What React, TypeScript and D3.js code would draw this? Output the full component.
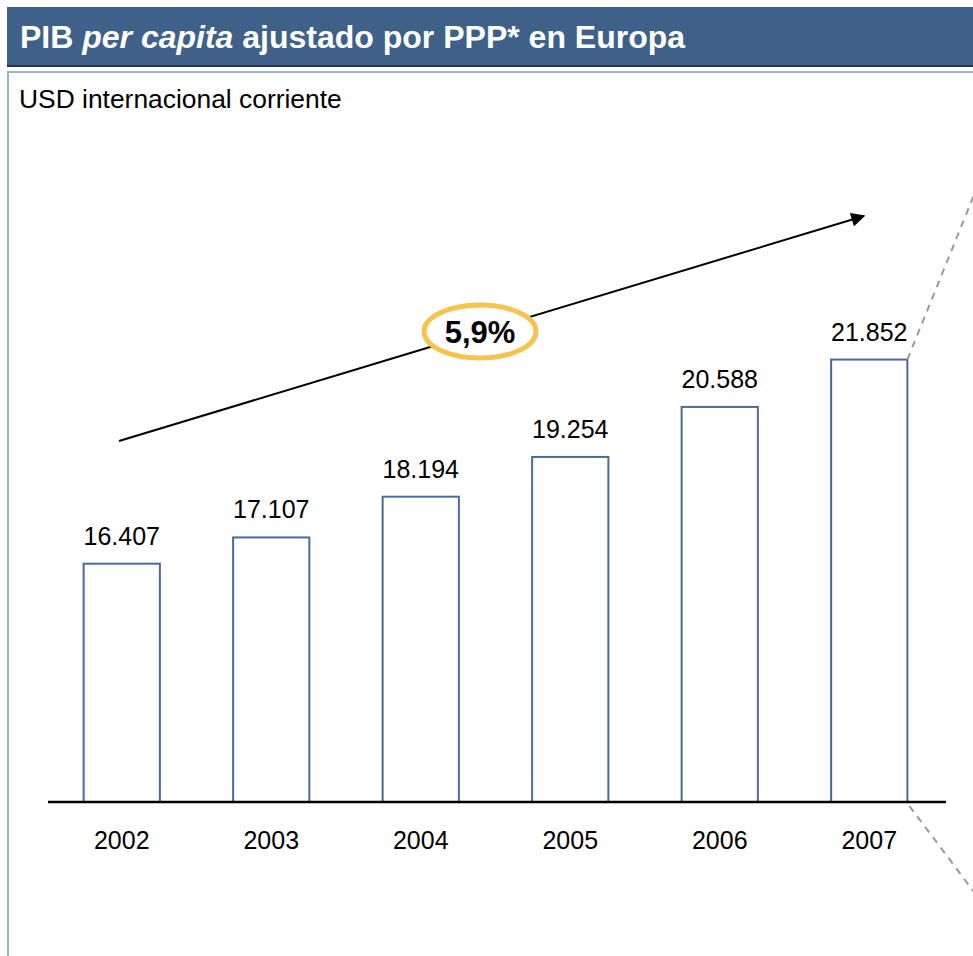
import React from "react";
import * as d3 from "d3";

const years = ["2002", "2003", "2004", "2005", "2006", "2007"];
const values = [16407, 17107, 18194, 19254, 20588, 21852];
const valueLabels = ["16.407", "17.107", "18.194", "19.254", "20.588", "21.852"];
const cagrLabel = "5,9%";
const subtitle = "USD internacional corriente";

const W = 973;
const H = 956;
const FONT = "Arial, 'Liberation Sans', sans-serif";

export default function App() {
  const x = d3.scaleBand<string>().domain(years).range([47, 944]).paddingInner(0.49).paddingOuter(0.245);
  const y = d3.scaleLinear().domain([10050, 22000]).range([802, 354]);
  const baseY = y(10050);

  const last = years.length - 1;
  const lastRight = (x(years[last]) as number) + x.bandwidth();
  const lastTop = y(values[last]);

  // dashed lines (zoom callout)
  const up = d3.line()([[lastRight, lastTop], [lastRight + 90, lastTop - 90 * 2.47]]);
  const down = d3.line()([[lastRight + 2, baseY + 4], [lastRight + 92, baseY + 4 + 90 * 1.33]]);

  const arrowStart: [number, number] = [119, 441];
  const arrowEnd: [number, number] = [864, 216];

  return (
    <svg width={W} height={H} style={{ position: "absolute", left: 0, top: 0, background: "#fff" }} fontFamily={FONT}>
      <defs>
        <marker id="ah" viewBox="0 0 10 10" refX="9" refY="5" markerWidth="8" markerHeight="7" orient="auto" markerUnits="strokeWidth">
          <path d="M0,0 L10,5 L0,10 z" fill="#000" />
        </marker>
      </defs>
      {/* title bar */}
      <rect x={7} y={7} width={W} height={60} fill="#3F6189" />
      <line x1={7} x2={W} y1={66} y2={66} stroke="#26374D" strokeWidth={2} />
      <text x={20} y={48} fill="#fff" fontSize={32} fontWeight="bold">
        PIB <tspan fontStyle="italic">per capita</tspan> ajustado por PPP* en Europa
      </text>
      {/* panel border */}
      <line x1={8} x2={W} y1={72} y2={72} stroke="#9BB4D6" strokeWidth={2} />
      <line x1={8} x2={8} y1={71} y2={H} stroke="#9BB4D6" strokeWidth={2} />
      <text x={19} y={108} fontSize={26.4} fill="#000">{subtitle}</text>

      {/* bars */}
      {years.map((yr, i) => (
        <g key={yr}>
          <rect
            x={x(yr)}
            y={y(values[i])}
            width={x.bandwidth()}
            height={baseY - y(values[i])}
            fill="#fff"
            stroke="#4A6A97"
            strokeWidth={2}
          />
          <text x={(x(yr) as number) + x.bandwidth() / 2} y={y(values[i]) - 19} textAnchor="middle" fontSize={25} fill="#000">
            {valueLabels[i]}
          </text>
          <text x={(x(yr) as number) + x.bandwidth() / 2} y={849} textAnchor="middle" fontSize={25} fill="#000">
            {yr}
          </text>
        </g>
      ))}
      <line x1={48} x2={946} y1={baseY} y2={baseY} stroke="#000" strokeWidth={2.5} />

      {/* dashed callout lines */}
      <path d={up ?? ""} stroke="#999" strokeWidth={2} strokeDasharray="7,6" fill="none" />
      <path d={down ?? ""} stroke="#999" strokeWidth={2} strokeDasharray="7,6" fill="none" />

      {/* growth arrow */}
      <line x1={arrowStart[0]} y1={arrowStart[1]} x2={arrowEnd[0]} y2={arrowEnd[1]} stroke="#000" strokeWidth={2} markerEnd="url(#ah)" />
      <ellipse cx={480} cy={331.5} rx={56} ry={26.5} fill="#fff" stroke="#F8C34C" strokeWidth={5} />
      <text x={480} y={343} textAnchor="middle" fontSize={31} fontWeight="bold" fill="#000">{cagrLabel}</text>
    </svg>
  );
}
